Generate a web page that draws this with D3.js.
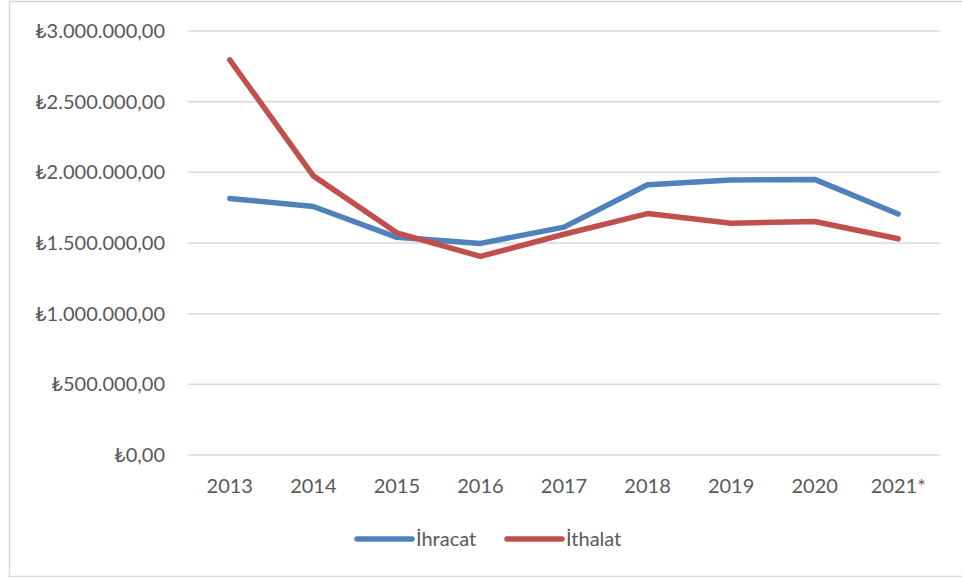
<!DOCTYPE html>
<html lang="tr">
<head>
    <meta charset="UTF-8">
    <title>İhracat ve İthalat</title>
    <script src="https://d3js.org/d3.v7.min.js"></script>
    <style>
        body { margin: 0; background: #fff; }
        text {
            font-family: Lato, 'Open Sans', sans-serif;
            fill: #595959;
        }
    </style>
</head>
<body>
<script>
    const width = 962;
    const height = 578;

    const years = ['2013', '2014', '2015', '2016', '2017', '2018', '2019', '2020', '2021*'];
    const ihracat = [1815000, 1758000, 1540000, 1497000, 1612000, 1912000, 1945000, 1950000, 1705000];
    const ithalat = [2795000, 1975000, 1572000, 1405000, 1562000, 1708000, 1640000, 1652000, 1530000];
    const ticks = [0, 500000, 1000000, 1500000, 2000000, 2500000, 3000000];

    const series = [
        {name: 'İhracat', values: ihracat, color: '#4f81bd'},
        {name: 'İthalat', values: ithalat, color: '#c0504d'}
    ];

    const svg = d3.select("body").append("svg").attr("width", width).attr("height", height);

    // chart frame
    svg.append("rect")
        .attr("x", 9.5).attr("y", 1.5)
        .attr("width", width + 10).attr("height", 575)
        .style("fill", "none").style("stroke", "#d9d9d9").style("stroke-width", 1.5);

    const x = d3.scaleBand().domain(years).range([188, 940]);
    const y = d3.scaleLinear().domain([0, 3000000]).range([455, 31]);

    const fmt = v => '₺' + d3.format(",.2f")(v).replace(/,/g, 'X').replace(/\./g, ',').replace(/X/g, '.');

    svg.append("g").selectAll("line")
        .data(ticks)
        .enter()
        .append("line")
        .attr("x1", 188).attr("x2", 940)
        .attr("y1", d => y(d)).attr("y2", d => y(d))
        .style("stroke", "#d9d9d9").style("stroke-width", 1.5);

    svg.append("g").selectAll("text")
        .data(ticks)
        .enter()
        .append("text")
        .attr("x", 165)
        .attr("y", d => y(d))
        .attr("dy", "0.35em")
        .attr("text-anchor", "end")
        .style("font-size", "20px")
        .text(fmt);

    svg.append("g").selectAll("text")
        .data(years)
        .enter()
        .append("text")
        .attr("x", d => x(d) + x.bandwidth() / 2)
        .attr("y", 486)
        .attr("dy", "0.35em")
        .attr("text-anchor", "middle")
        .style("font-size", "20px")
        .text(d => d);

    const line = d3.line()
        .x((d, i) => x(years[i]) + x.bandwidth() / 2)
        .y(d => y(d));

    svg.append("g").selectAll("path")
        .data(series)
        .enter()
        .append("path")
        .attr("d", d => line(d.values))
        .style("fill", "none")
        .style("stroke", d => d.color)
        .style("stroke-width", 5.5)
        .style("stroke-linecap", "round")
        .style("stroke-linejoin", "round");

    // legend
    const legendX = [357, 507];
    const legend = svg.append("g").selectAll("g")
        .data(series)
        .enter()
        .append("g")
        .attr("transform", (d, i) => `translate(${legendX[i]},539)`);

    legend.append("line")
        .attr("x1", 0).attr("x2", 55)
        .style("stroke", d => d.color)
        .style("stroke-width", 5.5)
        .style("stroke-linecap", "round");

    legend.append("text")
        .attr("x", 59)
        .attr("dy", "0.35em")
        .style("font-size", "20px")
        .text(d => d.name);
</script>
</body>
</html>
